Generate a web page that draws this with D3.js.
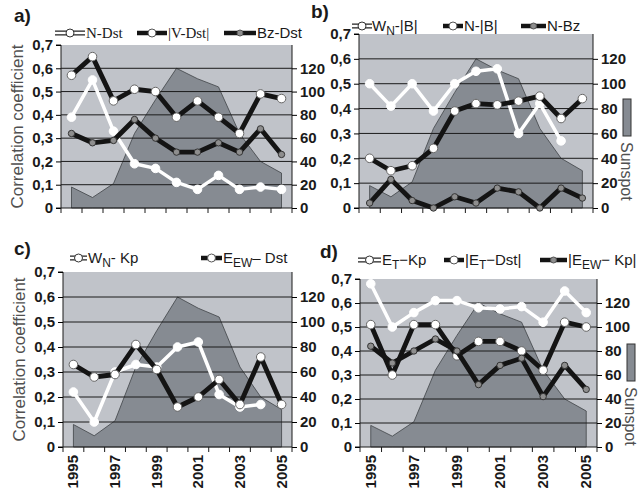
<!DOCTYPE html>
<html>
<head>
<meta charset="utf-8">
<script src="https://cdn.jsdelivr.net/npm/d3@7"></script>
<style>
  body { margin: 0; background: #fff; }
  svg { display: block; font-family: "Liberation Sans", Arial, sans-serif; }
</style>
</head>
<body>
<div id="chart"></div>
<script>
const years = [1995, 1996, 1997, 1998, 1999, 2000, 2001, 2002, 2003, 2004, 2005];
const sunspot = [18, 9, 21, 64, 93, 120, 111, 104, 64, 40, 30];

// panel a
const nDst = [0.39, 0.55, 0.33, 0.19, 0.17, 0.11, 0.08, 0.14, 0.08, 0.09, 0.08];
const vDst = [0.57, 0.65, 0.46, 0.51, 0.50, 0.39, 0.46, 0.39, 0.32, 0.49, 0.47];
const bzDst = [0.32, 0.28, 0.29, 0.38, 0.30, 0.24, 0.24, 0.28, 0.24, 0.34, 0.23];
// panel b
const wnB = [0.50, 0.41, 0.50, 0.39, 0.50, 0.55, 0.56, 0.30, 0.42, 0.27, null];
const nB = [0.20, 0.15, 0.17, 0.24, 0.39, 0.42, 0.415, 0.43, 0.45, 0.36, 0.44];
const nBz = [0.02, 0.115, 0.03, 0.0, 0.045, 0.02, 0.08, 0.065, 0.0, 0.08, 0.04];
// panel c
const wnKp = [0.22, 0.10, 0.30, 0.33, 0.32, 0.40, 0.42, 0.21, 0.16, 0.17, null];
const eewDst = [0.33, 0.28, 0.29, 0.41, 0.31, 0.16, 0.20, 0.27, 0.17, 0.36, 0.17];
// panel d
const etKp = [0.68, 0.50, 0.56, 0.61, 0.61, 0.58, 0.575, 0.585, 0.52, 0.65, 0.56];
const etDst = [0.51, 0.30, 0.51, 0.51, 0.38, 0.44, 0.44, 0.40, 0.32, 0.52, 0.50];
const eewKp = [0.42, 0.35, 0.40, 0.45, 0.40, 0.26, 0.34, 0.37, 0.21, 0.34, 0.24];

const leftTicks = [0, 0.1, 0.2, 0.3, 0.4, 0.5, 0.6, 0.7];
const rightTicks = [0, 20, 40, 60, 80, 100, 120];
const yearLabels = [1995, 1997, 1999, 2001, 2003, 2005];

const bgColor = "#c0c3c9";
const areaColor = "#868b92";

const svg = d3.select("#chart").append("svg")
    .attr("width", 641)
    .attr("height", 490);

// series styles: 0 = white line, 1 = black line w/ white dots, 2 = black line w/ gray dots
function drawSeries(g, x, y, values, kind) {
    const pts = years.map((yr, i) => ({ yr: yr, v: values[i] })).filter(d => d.v !== null);
    const line = d3.line()
        .x(d => x(d.yr) + x.bandwidth() / 2)
        .y(d => y(d.v));
    g.append("path")
        .datum(pts)
        .attr("d", line)
        .style("fill", "none")
        .style("stroke", kind === 0 ? "#fff" : "#141414")
        .style("stroke-width", kind === 0 ? 3.5 : 4.8)
        .style("stroke-linejoin", "round");
    g.selectAll(null)
        .data(pts)
        .enter().append("circle")
        .attr("cx", d => x(d.yr) + x.bandwidth() / 2)
        .attr("cy", d => y(d.v))
        .attr("r", kind === 2 ? 3.2 : 4.3)
        .style("fill", kind === 2 ? "#8e8e8e" : "#fff")
        .style("stroke", kind === 0 ? "#fff" : (kind === 2 ? "#333" : "#666"))
        .style("stroke-width", 1);
}

function legendItem(x, y, kind, w) {
    const g = svg.append("g");
    if (kind === 0) {
        g.append("line").attr("x1", x).attr("x2", x + w).attr("y1", y).attr("y2", y)
            .style("stroke", "#222").style("stroke-width", 5);
        g.append("line").attr("x1", x).attr("x2", x + w).attr("y1", y).attr("y2", y)
            .style("stroke", "#fff").style("stroke-width", 2.5);
    } else {
        g.append("line").attr("x1", x).attr("x2", x + w).attr("y1", y).attr("y2", y)
            .style("stroke", "#141414").style("stroke-width", 4.5);
    }
    g.append("circle").attr("cx", x + w / 2).attr("cy", y)
        .attr("r", kind === 2 ? 3 : 4)
        .style("fill", kind === 2 ? "#8e8e8e" : "#fff")
        .style("stroke", kind === 0 ? "#333" : "#555")
        .style("stroke-width", 1);
}

function panel(p) {
    const x = d3.scaleBand().domain(years).range([p.x0, p.x1]).padding(0);
    const y = d3.scaleLinear().domain([0, 0.7]).range([p.y1, p.y0]);
    const y2 = d3.scaleLinear().domain([0, 140]).range([p.y1, p.y0]);
    const g = svg.append("g");

    g.append("rect")
        .attr("x", p.x0).attr("y", p.y0)
        .attr("width", p.x1 - p.x0).attr("height", p.y1 - p.y0)
        .style("fill", bgColor);

    const area = d3.area()
        .x((d, i) => x(years[i]) + x.bandwidth() / 2)
        .y0(y2(0))
        .y1(d => y2(d));
    g.append("path")
        .datum(sunspot)
        .attr("d", area)
        .style("fill", areaColor)
        .style("stroke", "#3f4246")
        .style("stroke-width", 0.8);

    // gridlines
    g.selectAll(null)
        .data(leftTicks.slice(1, 7))
        .enter().append("line")
        .attr("x1", p.x0).attr("x2", p.x1)
        .attr("y1", d => y(d)).attr("y2", d => y(d))
        .style("stroke", "#1a1a1a").style("stroke-width", 1);

    // left axis
    const yAxis = d3.axisLeft(y).tickValues(leftTicks).tickSize(5).tickPadding(3)
        .tickFormat(d => d === 0 ? "0" : d3.format(".1f")(d).replace(".", ","));
    g.append("g")
        .attr("transform", `translate(${p.x0},0)`)
        .call(yAxis)
        .call(s => s.select(".domain").attr("d", `M-5,${p.y0}H0V${p.y1}H-5`).style("stroke", "#1a1a1a"))
        .call(s => s.selectAll("text").style("font-size", "15px").style("font-weight", "bold").style("fill", "#1a1a1a"));

    // right axis
    const yAxis2 = d3.axisRight(y2).tickValues(rightTicks).tickSize(5).tickPadding(3);
    g.append("g")
        .attr("transform", `translate(${p.x1},0)`)
        .call(yAxis2)
        .call(s => s.select(".domain").attr("d", `M0,${p.y0}V${p.y1}`).style("stroke", "#1a1a1a"))
        .call(s => s.selectAll("text").style("font-size", "15px").style("font-weight", "bold").style("fill", "#1a1a1a"));

    // bottom axis: ticks at band edges
    const edges = years.map(d => x(d)).concat([p.x1]);
    g.append("line")
        .attr("x1", p.x0).attr("x2", p.x1).attr("y1", p.y1).attr("y2", p.y1)
        .style("stroke", "#1a1a1a");
    g.selectAll(null)
        .data(edges)
        .enter().append("line")
        .attr("x1", d => d).attr("x2", d => d)
        .attr("y1", p.y1).attr("y2", p.y1 + 5)
        .style("stroke", "#1a1a1a");

    if (p.yearLabels) {
        g.selectAll(null)
            .data(yearLabels)
            .enter().append("text")
            .attr("transform", d => `translate(${x(d) + x.bandwidth() / 2 + 5},${p.y1 + 8}) rotate(-90)`)
            .attr("text-anchor", "end")
            .style("font-size", "15px")
            .style("font-weight", "bold")
            .style("fill", "#1a1a1a")
            .text(d => d);
    }

    p.series.forEach((s, i) => drawSeries(g, x, y, s, p.kinds[i]));

    svg.append("text")
        .attr("x", p.labelX).attr("y", p.labelY)
        .style("font-size", "19px").style("font-weight", "bold").style("fill", "#1a1a1a")
        .text(p.label);

    if (p.ylabel) {
        svg.append("text")
            .attr("transform", `translate(${p.x0 - 38},${(p.y0 + p.y1) / 2}) rotate(-90)`)
            .attr("text-anchor", "middle")
            .style("font-size", "17px")
            .style("fill", "#505050")
            .text("Correlation coefficient");
    }

    if (p.sunspotLegend) {
        svg.append("rect")
            .attr("x", p.x1 + 30).attr("y", p.y0 + 65)
            .attr("width", 8).attr("height", 37)
            .style("fill", areaColor).style("stroke", "#333").style("stroke-width", 1);
        svg.append("text")
            .attr("transform", `translate(${p.x1 + 28},${p.y0 + 108}) rotate(90)`)
            .style("font-size", "16px")
            .style("fill", "#505050")
            .text("Sunspot");
    }
}

panel({ x0: 61, x1: 292, y0: 45, y1: 208, label: "a)", labelX: 14, labelY: 22,
    ylabel: true, series: [nDst, vDst, bzDst], kinds: [0, 1, 2] });
panel({ x0: 359, x1: 593, y0: 34, y1: 208, label: "b)", labelX: 311, labelY: 18,
    sunspotLegend: true, series: [wnB, nB, nBz], kinds: [0, 1, 2] });
panel({ x0: 63, x1: 292, y0: 272, y1: 447, label: "c)", labelX: 14, labelY: 255,
    ylabel: true, yearLabels: true, series: [wnKp, eewDst], kinds: [0, 1] });
panel({ x0: 360, x1: 597, y0: 279, y1: 447, label: "d)", labelX: 320, labelY: 258,
    sunspotLegend: true, yearLabels: true, series: [etKp, etDst, eewKp], kinds: [0, 1, 2] });

// legends
function legendText(x, y, parts, serif) {
    const t = svg.append("text")
        .attr("x", x).attr("y", y + 5)
        .attr("font-family", serif ? "Liberation Serif, DejaVu Serif, serif" : "Liberation Sans, Arial, sans-serif")
        .style("font-size", "15px")
        .style("fill", "#1a1a1a");
    parts.forEach(pt => {
        const ts = t.append("tspan").text(pt[0]);
        if (pt[1] === "sub") ts.attr("baseline-shift", "-30%").style("font-size", "12px");
    });
}

// a
legendItem(55, 33, 0, 30); legendText(86, 33, [["N-Dst"]], true);
legendItem(137, 33, 1, 30); legendText(168, 33, [["|V-Dst|"]], true);
legendItem(224, 33, 2, 32); legendText(257, 33, [["Bz-Dst"]]);
// b
legendItem(352, 26, 0, 20); legendText(372, 26, [["W"], ["N", "sub"], ["-|B|"]]);
legendItem(443, 26, 1, 20); legendText(464, 26, [["N-|B|"]]);
legendItem(521, 26, 2, 25); legendText(547, 26, [["N-Bz"]]);
// c
legendItem(70, 258, 0, 17); legendText(88, 258, [["W"], ["N", "sub"], ["- Kp"]]);
legendItem(201, 258, 1, 21); legendText(223, 258, [["E"], ["EW", "sub"], ["\u2013 Dst"]]);
// d
legendItem(358, 260, 0, 23); legendText(382, 260, [["E"], ["T", "sub"], ["\u2212Kp"]]);
legendItem(444, 260, 1, 20); legendText(465, 260, [["|E"], ["T", "sub"], ["\u2212Dst|"]]);
legendItem(540, 260, 2, 27); legendText(568, 260, [["|E"], ["EW", "sub"], ["\u2212 Kp|"]]);
</script>
</body>
</html>
